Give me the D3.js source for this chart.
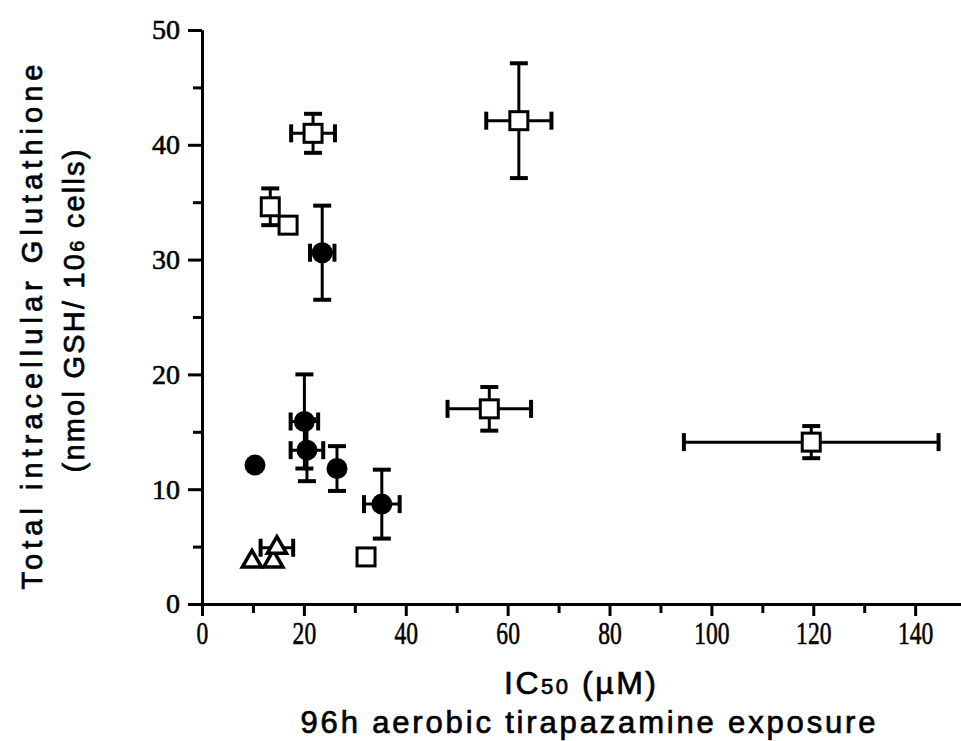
<!DOCTYPE html>
<html>
<head>
<meta charset="utf-8">
<script src="https://cdn.jsdelivr.net/npm/d3@7"></script>
<style>
  body { margin: 0; background: #fff; }
  svg { display: block; }
  .title { font-family: "Liberation Sans", Arial, sans-serif; fill: #000; stroke: #000; stroke-width: 0.7; }
</style>
</head>
<body>
<svg width="961" height="741"></svg>
<script>
// open squares
var sqX    = [21.8, 13.4, 16.9, 62.2, 56.4, 119.6, 32.2];
var sqY    = [41.0, 34.6, 33.0, 42.1, 17.0, 14.1, 4.1];
var sqXErr = [4.3, 0, 0, 6.4, 8.2, 25, 0];
var sqYErr = [1.7, 1.6, 0, 5.0, 1.9, 1.4, 0];

// filled circles
var ciX    = [23.6, 20.1, 20.6, 26.5, 35.3, 10.4];
var ciY    = [30.6, 15.9, 13.4, 11.8, 8.7, 12.1];
var ciXErr = [2.4, 2.7, 3.2, 0, 3.5, 0];
var ciYErr = [4.1, 4.1, 2.7, 1.95, 3.0, 0];

// open triangles
var trX    = [9.8, 14.0, 14.7];
var trY    = [3.7, 3.7, 4.9];
var trXErr = [0, 0, 3.2];
var trYErr = [0, 0, 0];

var xMajor = [0, 20, 40, 60, 80, 100, 120, 140];
var xMinor = [10, 30, 50, 70, 90, 110, 130];
var yMajor = [0, 10, 20, 30, 40, 50];
var yMinor = [5, 15, 25, 35, 45];

var svg = d3.select("svg");

var x = d3.scaleLinear().domain([0, 149]).range([202, 961]);
var y = d3.scaleLinear().domain([0, 50]).range([604, 30]);

// axes
var gx = svg.append("g").attr("transform", "translate(0,604)");
gx.append("g").call(d3.axisBottom(x).tickValues(xMinor).tickSize(9).tickSizeOuter(0).tickFormat(""));
gx.append("g").call(d3.axisBottom(x).tickValues(xMajor).tickSize(12).tickSizeOuter(0).tickPadding(6));
gx.selectAll("path, line").attr("stroke", "#000").attr("stroke-width", 3);
gx.selectAll(".tick text")
    .style("font-family", "'Liberation Serif', 'DejaVu Serif', serif")
    .style("font-size", "31px")
    .attr("fill", "#000").attr("stroke", "#000").attr("stroke-width", 0.6)
    .attr("transform", "scale(0.76,1)");

var gy = svg.append("g").attr("transform", "translate(202,0)");
gy.append("g").call(d3.axisLeft(y).tickValues(yMinor).tickSize(9).tickSizeOuter(0).tickFormat(""));
gy.append("g").call(d3.axisLeft(y).tickValues(yMajor).tickSize(14).tickSizeOuter(0).tickPadding(8));
gy.selectAll("path, line").attr("stroke", "#000").attr("stroke-width", 3);
gy.selectAll(".tick text")
    .style("font-family", "'Liberation Serif', 'DejaVu Serif', serif")
    .style("font-size", "28px")
    .attr("fill", "#000").attr("stroke", "#000").attr("stroke-width", 0.6);

// error bars
function errorBars(xs, ys, xe, ye) {
    var g = svg.append("g").attr("stroke", "#000");
    xs.forEach(function(v, i) {
        var cx = x(v), cy = y(ys[i]);
        if (ye[i] > 0) {
            var t = y(ys[i] + ye[i]), b = y(ys[i] - ye[i]);
            g.append("line").attr("x1", cx).attr("x2", cx).attr("y1", t).attr("y2", b).attr("stroke-width", 3);
            [t, b].forEach(function(p) {
                g.append("line").attr("x1", cx - 9).attr("x2", cx + 9).attr("y1", p).attr("y2", p).attr("stroke-width", 4);
            });
        }
        if (xe[i] > 0) {
            var l = x(v - xe[i]), r = x(v + xe[i]);
            g.append("line").attr("x1", l).attr("x2", r).attr("y1", cy).attr("y2", cy).attr("stroke-width", 3);
            [l, r].forEach(function(p) {
                g.append("line").attr("x1", p).attr("x2", p).attr("y1", cy - 9).attr("y2", cy + 9).attr("stroke-width", 4);
            });
        }
    });
}
errorBars(sqX, sqY, sqXErr, sqYErr);
errorBars(ciX, ciY, ciXErr, ciYErr);
errorBars(trX, trY, trXErr, trYErr);

// markers
svg.append("g").selectAll("rect")
    .data(sqX)
    .enter().append("rect")
    .attr("x", function(d) { return x(d) - 9; })
    .attr("y", function(d, i) { return y(sqY[i]) - 9; })
    .attr("width", 18).attr("height", 18)
    .attr("fill", "#fff").attr("stroke", "#000").attr("stroke-width", 3);

svg.append("g").selectAll("circle")
    .data(ciX)
    .enter().append("circle")
    .attr("cx", function(d) { return x(d); })
    .attr("cy", function(d, i) { return y(ciY[i]); })
    .attr("r", 10.5)
    .attr("fill", "#000");

svg.append("g").selectAll("path")
    .data(trX)
    .enter().append("path")
    .attr("d", d3.symbol().type(d3.symbolTriangle).size(160))
    .attr("transform", function(d, i) { return "translate(" + x(d) + "," + y(trY[i]) + ")"; })
    .attr("fill", "#fff").attr("stroke", "#000").attr("stroke-width", 3.5);

// titles
var yt = svg.append("g").attr("transform", "rotate(-90)");
yt.append("text").attr("class", "title")
    .attr("x", -327).attr("y", 42)
    .attr("text-anchor", "middle")
    .attr("font-size", 29)
    .attr("textLength", 525).attr("lengthAdjust", "spacing")
    .text("Total intracellular Glutathione");
var yt2 = yt.append("text").attr("class", "title")
    .attr("x", -311).attr("y", 84)
    .attr("text-anchor", "middle")
    .attr("font-size", 29)
    .attr("textLength", 323).attr("lengthAdjust", "spacing");
yt2.append("tspan").text("(nmol GSH/ 10");
yt2.append("tspan").attr("font-size", 20).text("6");
yt2.append("tspan").text(" cells)");

var xt = svg.append("text").attr("class", "title")
    .attr("x", 580).attr("y", 694)
    .attr("text-anchor", "middle")
    .attr("font-size", 32)
    .attr("textLength", 152).attr("lengthAdjust", "spacing");
xt.append("tspan").text("IC");
xt.append("tspan").attr("font-size", 22).text("50");
xt.append("tspan").text("  (\u00b5M)");

svg.append("text").attr("class", "title")
    .attr("x", 588).attr("y", 733)
    .attr("text-anchor", "middle")
    .attr("font-size", 31)
    .attr("textLength", 575).attr("lengthAdjust", "spacing")
    .text("96h aerobic tirapazamine exposure");
</script>
</body>
</html>
